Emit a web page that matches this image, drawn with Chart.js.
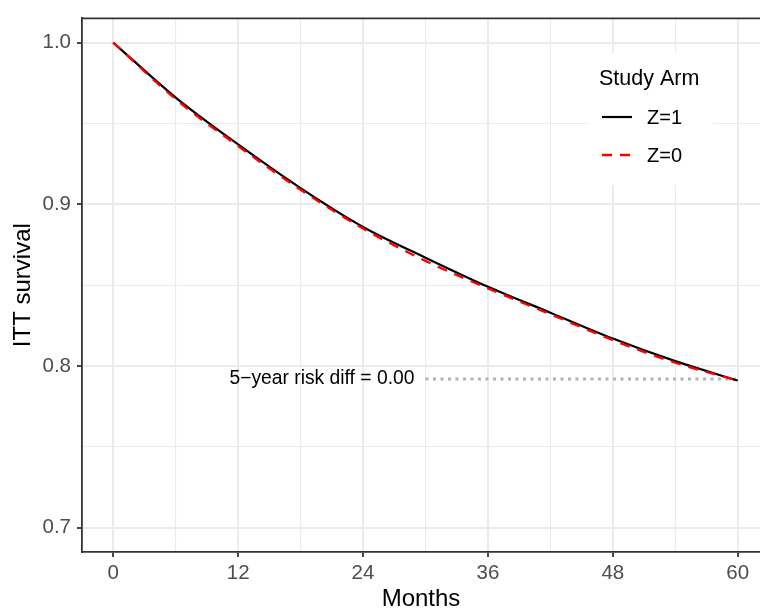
<!DOCTYPE html>
<html lang="en">
<head>
<meta charset="UTF-8">
<title>ITT survival</title>
<script src="https://cdn.jsdelivr.net/npm/chart.js"></script>
<style>
  html, body { margin: 0; padding: 0; background: #fff; }
</style>
</head>
<body>
<canvas id="grafico" width="760" height="611"></canvas>

<script>
// valores
const meses = [0, 6, 12, 18, 24, 30, 36, 42, 48, 54, 60];
const sobrevZ1 = [1.000, 0.966, 0.937, 0.910, 0.886, 0.867, 0.849, 0.833, 0.817, 0.803, 0.791];
const sobrevZ0 = [1.000, 0.965, 0.936, 0.909, 0.885, 0.865, 0.848, 0.832, 0.816, 0.802, 0.791];
const diffX = [30, 60];
const diffY = [0.792, 0.792];
const ticksX = [0, 12, 24, 36, 48, 60];
const minorX = [6, 18, 30, 42, 54];
const ticksY = [0.7, 0.8, 0.9, 1.0];
const minorY = [0.75, 0.85, 0.95];
const rotuloDiff = '5\u2212year risk diff = 0.00';

const FONTE = '"Liberation Sans", Arial, Helvetica, sans-serif';

function ehMajor(lista, v) {
    return lista.some(t => Math.abs(t - v) < 1e-9);
}

function pontos(xs, ys) {
    return xs.map((x, i) => ({ x: x, y: ys[i] }));
}

// borda de cima, anotação e legenda no estilo ggplot
const extras = {
    id: 'extras',
    afterDraw(chart) {
        const { ctx, chartArea: a, scales: { x, y } } = chart;
        ctx.save();

        ctx.strokeStyle = '#333333';
        ctx.lineWidth = 1.8;
        ctx.beginPath();
        ctx.moveTo(a.left - 0.9, a.top);
        ctx.lineTo(a.right, a.top);
        ctx.stroke();

        ctx.fillStyle = '#000000';
        ctx.font = '19.3px ' + FONTE;
        ctx.textAlign = 'right';
        ctx.textBaseline = 'middle';
        ctx.fillText(rotuloDiff, x.getPixelForValue(diffX[0]) - 11, y.getPixelForValue(diffY[0]));

        // legenda
        ctx.fillStyle = '#ffffff';
        ctx.fillRect(587, 53, 126, 132);
        ctx.fillStyle = '#000000';
        ctx.textAlign = 'left';
        ctx.font = '21.5px ' + FONTE;
        ctx.fillText('Study Arm', 599, 79);
        ctx.font = '20px ' + FONTE;
        ctx.fillText('Z=1', 647, 118);
        ctx.fillText('Z=0', 647, 156);

        ctx.lineCap = 'butt';
        ctx.strokeStyle = '#000000';
        ctx.lineWidth = 2.2;
        ctx.beginPath();
        ctx.moveTo(602, 117);
        ctx.lineTo(632, 117);
        ctx.stroke();

        ctx.strokeStyle = '#ff0000';
        ctx.lineWidth = 2.3;
        ctx.setLineDash([10, 8]);
        ctx.beginPath();
        ctx.moveTo(602, 155);
        ctx.lineTo(632, 155);
        ctx.stroke();

        ctx.restore();
    }
};

const ctx = document.getElementById('grafico');
new Chart(ctx, {
    type: 'line',
    data: {
        datasets: [
            {
                label: 'Z=1',
                data: pontos(meses, sobrevZ1),
                borderColor: '#000000',
                borderWidth: 2.2,
                pointRadius: 0,
                cubicInterpolationMode: 'monotone',
                order: 2
            },
            {
                label: 'Z=0',
                data: pontos(meses, sobrevZ0),
                borderColor: '#ff0000',
                borderWidth: 2.3,
                borderDash: [10, 8],
                pointRadius: 0,
                cubicInterpolationMode: 'monotone',
                order: 1
            },
            {
                label: 'diff',
                data: pontos(diffX, diffY),
                borderColor: '#b3b3b3',
                borderWidth: 3,
                borderDash: [3, 4.5],
                pointRadius: 0,
                order: 3
            }
        ]
    },
    options: {
        responsive: false,
        animation: false,
        devicePixelRatio: 1,
        layout: { padding: { top: 14, left: 0, right: 0, bottom: 0 } },
        plugins: {
            legend: { display: false },
            tooltip: { enabled: false }
        },
        scales: {
            x: {
                type: 'linear',
                min: -3,
                max: 62.14,
                afterBuildTicks(s) {
                    s.ticks = ticksX.concat(minorX).sort((p, q) => p - q).map(v => ({ value: v }));
                },
                afterFit(s) { s.height = 59; },
                ticks: {
                    autoSkip: false,
                    maxRotation: 0,
                    color: '#4d4d4d',
                    padding: 4,
                    font: { family: FONTE, size: 20.5 },
                    callback: v => ehMajor(ticksX, v) ? String(v) : ''
                },
                grid: {
                    color: '#ebebeb',
                    lineWidth: c => ehMajor(ticksX, c.tick.value) ? 2 : 1.1,
                    tickColor: c => ehMajor(ticksX, c.tick.value) ? '#333333' : 'rgba(0,0,0,0)',
                    tickLength: 5,
                    tickWidth: 1.8
                },
                border: { color: '#333333', width: 1.8 },
                title: {
                    display: true,
                    text: 'Months',
                    color: '#000000',
                    font: { family: FONTE, size: 24, lineHeight: 1 },
                    padding: { top: 0, bottom: 0 }
                }
            },
            y: {
                type: 'linear',
                min: 0.685,
                max: 1.015,
                afterBuildTicks(s) {
                    s.ticks = ticksY.concat(minorY).sort((p, q) => p - q).map(v => ({ value: v }));
                },
                afterFit(s) { s.width = 82; },
                ticks: {
                    autoSkip: false,
                    color: '#4d4d4d',
                    padding: 6,
                    font: { family: FONTE, size: 20.5 },
                    callback: v => ehMajor(ticksY, v) ? v.toFixed(1) : ''
                },
                grid: {
                    color: '#ebebeb',
                    lineWidth: c => ehMajor(ticksY, c.tick.value) ? 2 : 1.1,
                    tickColor: c => ehMajor(ticksY, c.tick.value) ? '#333333' : 'rgba(0,0,0,0)',
                    tickLength: 5,
                    tickWidth: 1.8
                },
                border: { color: '#333333', width: 1.8 },
                title: {
                    display: true,
                    text: 'ITT survival',
                    color: '#000000',
                    font: { family: FONTE, size: 24, lineHeight: 1 },
                    padding: { top: 11, bottom: 0 }
                }
            }
        }
    },
    plugins: [extras]
});
</script>
</body>
</html>
